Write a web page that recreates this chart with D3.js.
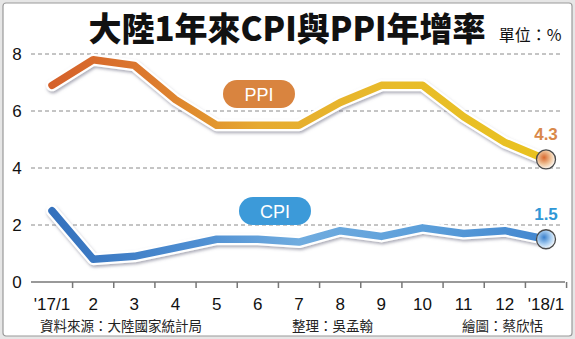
<!DOCTYPE html>
<html>
<head>
<meta charset="utf-8">
<script src="https://cdn.jsdelivr.net/npm/d3@7"></script>
<style>
  html, body { margin: 0; padding: 0; background: #ffffff; }
  svg { display: block; }
</style>
</head>
<body>
<svg id="chart" width="575" height="339"></svg>
<script>
// Monthly year-over-year growth, Jan 2017 – Jan 2018 (%)
const months = ["'17/1", "2", "3", "4", "5", "6", "7", "8", "9", "10", "11", "12", "'18/1"];
const ppiValues = [6.9, 7.8, 7.6, 6.4, 5.5, 5.5, 5.5, 6.3, 6.9, 6.9, 5.8, 4.9, 4.3];
const cpiValues = [2.5, 0.8, 0.9, 1.2, 1.5, 1.5, 1.4, 1.8, 1.6, 1.9, 1.7, 1.8, 1.5];
const yTicks = [0, 2, 4, 6, 8];

const titleText = "大陸1年來CPI與PPI年增率";
const unitText = "單位：%";
const sourceText = "資料來源：大陸國家統計局";
const editorText = "整理：吳孟翰";
const artistText = "繪圖：蔡欣恬";

const W = 575, H = 339;
const svg = d3.select("#chart");
const defs = svg.append("defs");

// outer frame
svg.append("rect")
  .attr("x", 0).attr("y", 0).attr("width", W).attr("height", H)
  .attr("fill", "#e6e6e6");
svg.append("rect")
  .attr("x", 3).attr("y", 3).attr("width", W - 6).attr("height", H - 6)
  .attr("rx", 3)
  .attr("fill", "#ffffff").attr("stroke", "#9a9a9a").attr("stroke-width", 1.2);

const x = d3.scalePoint().domain(months).range([52, 546]);
const y = d3.scaleLinear().domain([0, 8]).range([282, 54]);
const step = x.step();

// dashed gridlines
const grid = svg.append("g");
grid.selectAll("line")
  .data(yTicks.filter(d => d > 0))
  .join("line")
  .attr("x1", 31).attr("x2", 562)
  .attr("y1", d => y(d)).attr("y2", d => y(d))
  .attr("stroke", "#8a8a8a").attr("stroke-width", 1)
  .attr("stroke-dasharray", "4,3");

// y tick labels
svg.append("g").selectAll("text")
  .data(yTicks)
  .join("text")
  .attr("x", 17).attr("y", d => y(d) + 6)
  .attr("text-anchor", "middle")
  .attr("font-family", "Liberation Sans, Arial, sans-serif")
  .attr("font-size", 17)
  .attr("fill", "#111")
  .text(d => d);

// x axis baseline with ticks between months
svg.append("line")
  .attr("x1", 31).attr("x2", 565)
  .attr("y1", y(0)).attr("y2", y(0))
  .attr("stroke", "#777").attr("stroke-width", 1.5);
svg.append("g").selectAll("line")
  .data(months)
  .join("line")
  .attr("x1", d => x(d) + step / 2).attr("x2", d => x(d) + step / 2)
  .attr("y1", y(0)).attr("y2", y(0) + 6)
  .attr("stroke", "#777").attr("stroke-width", 1.5);

svg.append("g").selectAll("text")
  .data(months)
  .join("text")
  .attr("x", d => x(d))
  .attr("y", 310)
  .attr("text-anchor", "middle")
  .attr("font-family", "Liberation Sans, Arial, sans-serif")
  .attr("font-size", 17)
  .attr("fill", "#111")
  .text(d => d);

// line gradients
function hGradient(id, stops) {
  const g = defs.append("linearGradient")
    .attr("id", id)
    .attr("gradientUnits", "userSpaceOnUse")
    .attr("x1", x(months[0])).attr("x2", x(months[months.length - 1]))
    .attr("y1", 0).attr("y2", 0);
  stops.forEach(s => g.append("stop").attr("offset", s[0]).attr("stop-color", s[1]));
}
hGradient("ppiGrad", [[0, "#d5612b"], [0.2, "#dc7a2e"], [0.42, "#e6aa30"], [0.7, "#e8bc2a"], [1, "#e9c21f"]]);
hGradient("cpiGrad", [[0, "#3471bd"], [0.3, "#4f8fd2"], [0.5, "#70acdf"], [0.75, "#5c9fda"], [1, "#4286cf"]]);

// soft shadow under the outlined lines
const shadow = defs.append("filter").attr("id", "lineShadow")
  .attr("x", "-10%").attr("y", "-30%").attr("width", "120%").attr("height", "160%");
shadow.append("feDropShadow")
  .attr("dx", 1).attr("dy", 2).attr("stdDeviation", 1.6)
  .attr("flood-color", "#6a6a80").attr("flood-opacity", 0.55);

function radial(id, inner, outer) {
  const g = defs.append("radialGradient").attr("id", id)
    .attr("cx", "40%").attr("cy", "40%").attr("r", "65%");
  g.append("stop").attr("offset", 0).attr("stop-color", inner);
  g.append("stop").attr("offset", 0.55).attr("stop-color", outer);
  g.append("stop").attr("offset", 1).attr("stop-color", "#ffffff");
}
radial("ppiDot", "#d8682e", "#f0c49a");
radial("cpiDot", "#3a80cc", "#a8cdf0");

const line = d3.line()
  .x((d, i) => x(months[i]))
  .y(d => y(d))
  .curve(d3.curveLinear);

function drawSeries(values, grad) {
  const g = svg.append("g");
  g.append("path")
    .attr("d", line(values))
    .attr("fill", "none")
    .attr("stroke", "#ffffff")
    .attr("stroke-width", 12)
    .attr("stroke-linejoin", "round")
    .attr("stroke-linecap", "round")
    .attr("filter", "url(#lineShadow)");
  g.append("path")
    .attr("d", line(values))
    .attr("fill", "none")
    .attr("stroke", `url(#${grad})`)
    .attr("stroke-width", 7.5)
    .attr("stroke-linejoin", "round")
    .attr("stroke-linecap", "round");
}
drawSeries(ppiValues, "ppiGrad");
drawSeries(cpiValues, "cpiGrad");

// end markers and value labels
function endMarker(values, dotId, color, label) {
  const last = values[values.length - 1];
  const cx = x(months[months.length - 1]), cy = y(last);
  svg.append("circle")
    .attr("cx", cx).attr("cy", cy).attr("r", 9.5)
    .attr("fill", `url(#${dotId})`)
    .attr("stroke", "#4a4a4a").attr("stroke-width", 1.3);
  svg.append("text")
    .attr("x", cx).attr("y", cy - 19)
    .attr("text-anchor", "middle")
    .attr("font-family", "Liberation Sans, Arial, sans-serif")
    .attr("font-weight", "bold")
    .attr("font-size", 17)
    .attr("fill", color)
    .text(label);
}
endMarker(ppiValues, "ppiDot", "#d9884a", ppiValues[ppiValues.length - 1].toFixed(1));
endMarker(cpiValues, "cpiDot", "#2f97d6", cpiValues[cpiValues.length - 1].toFixed(1));

// series name pills
function pill(cx, cy, w, h, fill, label) {
  svg.append("rect")
    .attr("x", cx - w / 2).attr("y", cy - h / 2)
    .attr("width", w).attr("height", h)
    .attr("rx", h / 2)
    .attr("fill", fill);
  svg.append("text")
    .attr("x", cx).attr("y", cy + 6.5)
    .attr("text-anchor", "middle")
    .attr("font-family", "Liberation Sans, Arial, sans-serif")
    .attr("font-size", 18)
    .attr("fill", "#ffffff")
    .text(label);
}
pill(259, 94, 72, 28, "#d9843f", "PPI");
pill(275, 211, 72, 28, "#3c9ad9", "CPI");

// title and unit
svg.append("text")
  .attr("x", 287).attr("y", 41)
  .attr("text-anchor", "middle")
  .attr("font-family", "Noto Sans CJK TC, sans-serif")
  .attr("font-weight", 900)
  .attr("font-size", 33)
  .attr("fill", "#111")
  .text(titleText);
svg.append("text")
  .attr("x", 530).attr("y", 41)
  .attr("text-anchor", "middle")
  .attr("font-family", "Noto Sans CJK TC, sans-serif")
  .attr("font-size", 16)
  .attr("fill", "#111")
  .text(unitText);

// credits
const credit = svg.append("g")
  .attr("font-family", "Noto Sans CJK TC, sans-serif")
  .attr("font-size", 13.5)
  .attr("fill", "#222");
credit.append("text").attr("x", 40).attr("y", 331).text(sourceText);
credit.append("text").attr("x", 292).attr("y", 331).text(editorText);
credit.append("text").attr("x", 462).attr("y", 331).text(artistText);
</script>
</body>
</html>
